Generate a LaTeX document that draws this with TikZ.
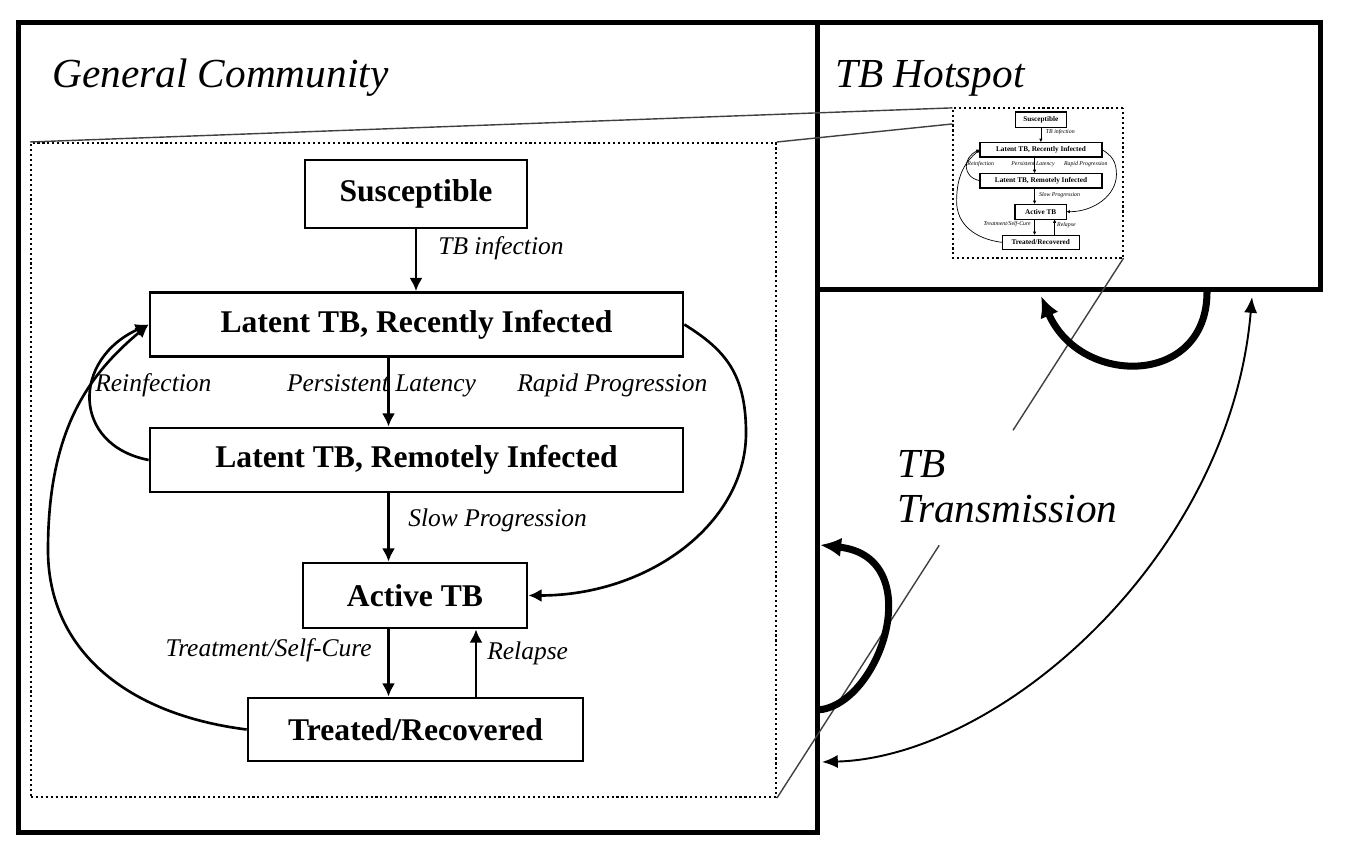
\documentclass[tikz,border=0pt]{standalone}
\usepackage{fontspec}
\setmainfont{Liberation Serif}
\usetikzlibrary{arrows.meta,calc}

\begin{document}
\begin{tikzpicture}[x=0.02cm, y=0.02cm,
>={Latex[length=7.5pt,width=7.5pt]},
box/.style={draw, line width=1.6pt, inner sep=0pt,
 font=\bfseries\fontsize{18}{20}\selectfont},
flow/.style={->, line width=1.5pt},
lbl/.style={font=\itshape\fontsize{14.5}{16}\selectfont, inner sep=0pt},
zone/.style={draw, line width=1.2pt, dash pattern=on 1.2pt off 1.6pt,
 inner sep=0pt, minimum width=14.9cm, minimum height=13.08cm},
region/.style={draw, line width=2.8pt, inner sep=0pt, anchor=south west},
big/.style={font=\itshape\fontsize{23.5}{26}\selectfont, inner sep=0pt},
zoomline/.style={black!75, line width=0.8pt},
spread/.style={line width=4pt, -{Latex[length=12pt,width=11pt]}},
tbmodel/.pic={
 \node[zone] (-frame) at (0,0) {};
 \node[box, minimum width=4.44cm, minimum height=1.36cm] (-sus) at (12.5,276) {Susceptible};
 \node[box, minimum width=10.66cm, minimum height=1.28cm] (-rec) at (13,145.5) {Latent TB, Recently Infected};
 \node[box, minimum width=10.66cm, minimum height=1.28cm] (-rem) at (13,10) {Latent TB, Remotely Infected};
 \node[box, minimum width=4.48cm, minimum height=1.3cm] (-act) at (11.5,-125.5) {Active TB};
 \node[box, minimum width=6.7cm, minimum height=1.26cm] (-trt) at (12,-259.5) {Treated/Recovered};
 \coordinate (-lx) at (-15,0);
 \coordinate (-rx) at (72.5,0);
 % labels
 \node[lbl, anchor=base west] (-linf) at (34.5,215) {TB infection};
 \node[lbl, anchor=base] (-lpers) at (-22,78) {Persistent Latency};
 \node[lbl, anchor=base west] (-lreinf) at (-308.5,78) {Reinfection};
 \node[lbl, anchor=base west] (-lrapid) at (113.5,78) {Rapid Progression};
 \node[lbl, anchor=base west] (-lslow) at (4.5,-57) {Slow Progression};
 \node[lbl, anchor=base east] (-ltreat) at (-31.5,-187) {Treatment/Self-Cure};
 \node[lbl, anchor=base west] (-lrel) at (83.5,-190) {Relapse};
 % flows
 \draw[flow] (-sus.south) -- (-sus.south |- -rec.north);
 \draw[flow] (-rec.south -| -lx) -- (-rem.north -| -lx);
 \draw[flow] (-rem.south -| -lx) -- (-act.north -| -lx);
 \draw[flow] (-act.south -| -lx) -- (-trt.north -| -lx);
 \draw[flow] (-trt.north -| -rx) -- (-act.south -| -rx);
 \draw[flow] (-rec.east) .. controls +(40,-25) and +(0,60) .. (342.5,37)
  .. controls +(0,-90) and +(121,0) .. (-act.east);
 \draw[flow] (-rem.west) .. controls +(-77,15) and +(-77,-35) .. (-rec.west);
 \draw[flow] (-trt.west) .. controls +(-120,15) and +(0,-100) .. (-355.5,-80)
  .. controls +(0,120) and +(-60,-50) .. (-rec.west);
}
]
\useasboundingbox (0,0) rectangle (1351,857);

\node[region, minimum width=15.98cm, minimum height=16.2cm] (gc) at (16,22) {};
\node[region, minimum width=10.06cm, minimum height=5.34cm] (hs) at (815,565) {};
\node[big, anchor=base west] (gctitle) at (52,769) {General Community};
\node[big, anchor=base west] (hstitle) at (835,769) {TB Hotspot};
\node[big, anchor=base west, align=left] (trans) at (897,334) {TB\\Transmission};

\pic (gen) at (403.5,387) {tbmodel};
\pic[scale=0.229, transform shape,
 box/.append style={line width=0.6pt},
 flow/.append style={line width=0.4pt},
 >={Latex[length=2pt,width=2pt]}] (hot) at (1038,674) {tbmodel};

% zoom lines
\draw[zoomline] (gen-frame.north west) -- (hot-frame.north west);
\draw[zoomline] (gen-frame.north east) -- ($(hot-frame.north west)!0.107!(hot-frame.south west)$);
\draw[zoomline] (hot-frame.south east) -- ($(hot-frame.south east)!0.319!(gen-frame.south east)$);
\draw[zoomline] ($(hot-frame.south east)!0.532!(gen-frame.south east)$) -- (gen-frame.south east);

% transmission arrows
\coordinate (hsR) at (1207,565);
\coordinate (hsL) at (1041,561);
\coordinate (gcB) at (817,147);
\coordinate (gcT) at (820,312);
\coordinate (gcX) at (822,95);
\coordinate (hsX) at (1252,560);
\draw[spread] (hsR) .. controls (1207,470) and (1080,470) .. (hsL);
\draw[spread] (gcB) .. controls (880,150) and (930,300) .. (gcT);
\draw[line width=1.1pt, {Latex[length=9pt,width=7.5pt]}-{Latex[length=9pt,width=7.5pt]}]
 (gcX) .. controls (1000,100) and (1230,300) .. (hsX);

\end{tikzpicture}
\end{document}
